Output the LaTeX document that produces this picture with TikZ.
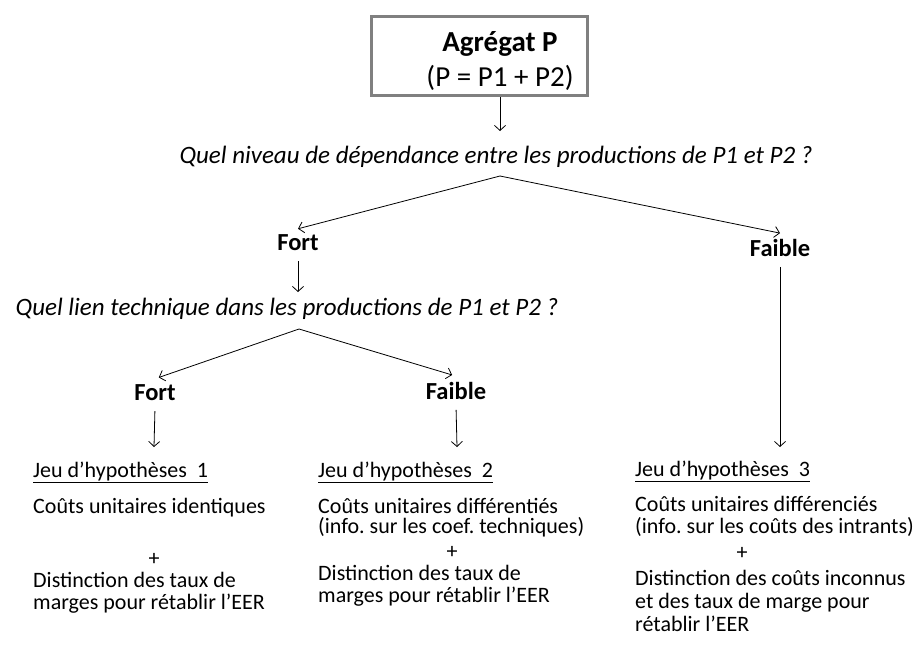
\documentclass[tikz,border=0pt]{standalone}
\usepackage{fontspec}
\setmainfont{Carlito}
\usetikzlibrary{arrows.meta}
\frenchspacing

\begin{document}
\begin{tikzpicture}[x=1pt, y=-1pt,
    question/.style={font=\fontsize{25}{30}\selectfont\itshape, inner sep=0},
    choix/.style={font=\fontsize{24.5}{30}\selectfont\bfseries, inner sep=6pt},
    texte/.style={font=\fontsize{22}{26}\selectfont, anchor=base west, inner sep=0},
    plus/.style={font=\fontsize{22}{26}\selectfont, anchor=base, inner sep=0},
    fleche/.style={draw=black, line width=0.8pt, -{Straight Barb[length=5pt, width=11pt]}}]

    \useasboundingbox (0,0) rectangle (920,646);

    % Agregat P
    \node[draw=gray, line width=3pt, minimum width=216, minimum height=79] (cadre) at (479,56) {};
    \node[font=\fontsize{29}{35}\selectfont, align=center, inner sep=0] (agregat) at (500,61) {\textbf{Agrégat P}\\(P = P1 + P2)};
    \coordinate (haut) at (500,131);
    \draw[fleche] (cadre.south -| haut) -- (haut);

    % first question
    \node[question] (q1) at (496,157) {Quel niveau de dépendance entre les productions de P1 et P2 ?};
    \coordinate (c1) at (500,176);
    \node[choix] (fort1) at (298,243) {Fort};
    \node[choix] (faible1) at (780,248) {Faible};
    \draw[fleche] (c1) -- (fort1.north);
    \draw[fleche] (c1) -- (faible1.north);

    % second question
    \coordinate (haut2) at (298,292);
    \draw[fleche, shorten <=4pt] (fort1.south) -- (haut2);
    \node[question] (q2) at (287,309) {Quel lien technique dans les productions de P1 et P2 ?};
    \coordinate (c2) at (299,329);
    \node[choix] (fort2) at (155,393) {Fort};
    \node[choix] (faible2) at (456,391) {Faible};
    \draw[fleche, shorten >=4pt] (c2) -- (fort2.north);
    \draw[fleche, shorten >=4pt] (c2) -- (faible2.north);

    % arrows to the hypotheses
    \coordinate (bas1) at (154,447);
    \coordinate (bas2) at (457,447);
    \coordinate (bas3) at (780,447);
    \draw[fleche, shorten <=4pt] (fort2.south) -- (bas1);
    \draw[fleche, shorten <=4pt] (faible2.south) -- (bas2);
    \draw[fleche, shorten <=4pt] (faible1.south) -- (bas3);

    % Jeu d'hypotheses 1
    \node[texte] (h1) at (33,477) {\underline{Jeu d’hypothèses\ \ 1}};
    \node[texte] (h1a) at (33,513) {Coûts unitaires identiques};
    \node[plus] (h1p) at (154,565) {+};
    \node[texte] (h1b) at (33,587) {Distinction des taux de};
    \node[texte] (h1c) at (33,609) {marges pour rétablir l’EER};

    % Jeu d'hypotheses 2
    \node[texte] (h2) at (318,477) {\underline{Jeu d’hypothèses\ \ 2}};
    \node[texte] (h2a) at (318,513) {Coûts unitaires différentiés};
    \node[texte] (h2b) at (318,533) {(info. sur les coef. techniques)};
    \node[plus] (h2p) at (452,558) {+};
    \node[texte] (h2c) at (318,580) {Distinction des taux de};
    \node[texte] (h2d) at (318,602) {marges pour rétablir l’EER};

    % Jeu d'hypotheses 3
    \node[texte] (h3) at (635,476) {\underline{Jeu d’hypothèses\ \ 3}};
    \node[texte] (h3a) at (635,511) {Coûts unitaires différenciés};
    \node[texte] (h3b) at (635,533) {(info. sur les coûts des intrants)};
    \node[plus] (h3p) at (742,559) {+};
    \node[texte] (h3c) at (635,585) {Distinction des coûts inconnus};
    \node[texte] (h3d) at (635,608) {et des taux de marge pour};
    \node[texte] (h3e) at (635,631) {rétablir l’EER};

\end{tikzpicture}
\end{document}
